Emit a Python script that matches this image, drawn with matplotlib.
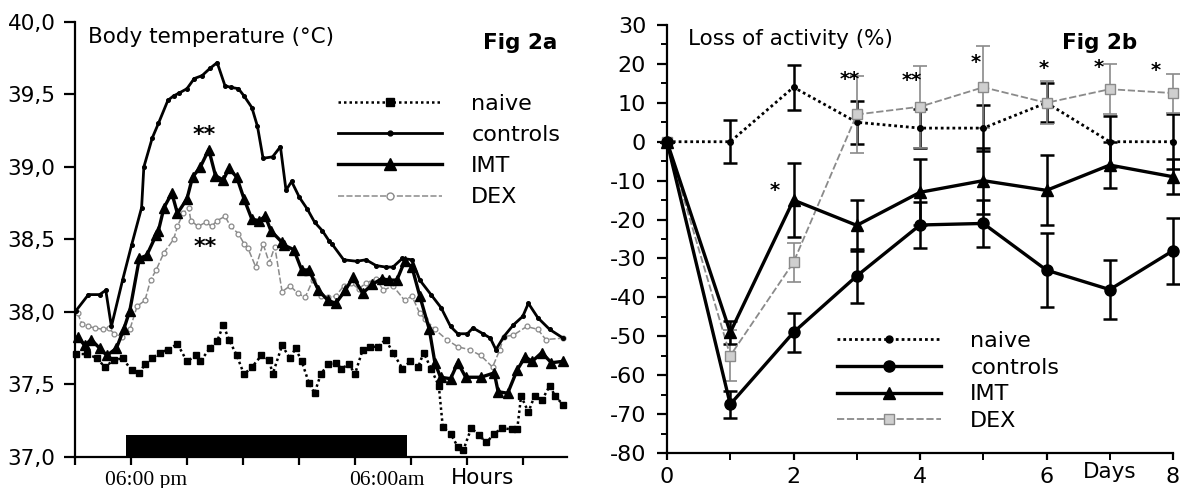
import matplotlib
matplotlib.use("Agg")
import matplotlib.pyplot as plt
from matplotlib.lines import Line2D
from matplotlib.ticker import MultipleLocator, FixedLocator, FixedFormatter
import matplotlib.transforms as mtransforms

plt.rcParams['axes.unicode_minus'] = False
plt.rcParams['font.family'] = ['DejaVu Sans']

# ---------------- Fig 2a data (x in tick intervals, y in °C) ----------------
ctrl_t = [0.02, 0.24, 0.44, 0.55, 0.65, 0.85, 1.01, 1.19, 1.23, 1.38, 1.49, 1.66, 1.76, 1.86, 2.0,
          2.13, 2.27, 2.41, 2.54, 2.68, 2.78, 2.92, 3.02, 3.16, 3.26, 3.36, 3.53, 3.67, 3.77, 3.87,
          4.01, 4.15, 4.28, 4.42, 4.54, 4.59, 4.80, 5.03, 5.20, 5.38, 5.55, 5.68, 5.85, 6.02, 6.16,
          6.36, 6.54, 6.71, 6.84, 7.01, 7.11, 7.29, 7.42, 7.52, 7.66, 7.83, 8.0, 8.10, 8.27, 8.48, 8.72]
ctrl_v = [38.01, 38.12, 38.12, 38.15, 37.90, 38.22, 38.46, 38.72, 39.0, 39.2, 39.30, 39.46, 39.49, 39.51, 39.54,
          39.61, 39.63, 39.68, 39.72, 39.56, 39.55, 39.54, 39.49, 39.41, 39.28, 39.06, 39.07, 39.14, 38.84, 38.90,
          38.79, 38.71, 38.62, 38.56, 38.49, 38.47, 38.36, 38.35, 38.36, 38.32, 38.31, 38.31, 38.37, 38.36, 38.22,
          38.12, 38.03, 37.90, 37.85, 37.85, 37.89, 37.85, 37.82, 37.74, 37.83, 37.91, 37.97, 38.06, 37.96, 37.88, 37.82]

imt_t = [0.05, 0.17, 0.29, 0.44, 0.57, 0.74, 0.87, 0.98, 1.15, 1.28, 1.45, 1.49, 1.59, 1.73, 1.83, 2.0,
         2.10, 2.24, 2.39, 2.51, 2.65, 2.75, 2.89, 3.02, 3.16, 3.29, 3.40, 3.50, 3.70, 3.74, 3.91, 4.05,
         4.18, 4.35, 4.52, 4.66, 4.83, 4.97, 5.14, 5.31, 5.48, 5.61, 5.75, 5.89, 6.02, 6.16, 6.33, 6.43,
         6.53, 6.71, 6.84, 6.98, 7.25, 7.49, 7.56, 7.73, 7.90, 8.04, 8.17, 8.34, 8.51, 8.72]
imt_v = [37.83, 37.77, 37.81, 37.75, 37.70, 37.75, 37.88, 38.01, 38.37, 38.39, 38.53, 38.56, 38.72, 38.82, 38.68, 38.78,
         38.93, 39.0, 39.12, 38.94, 38.91, 38.99, 38.93, 38.78, 38.64, 38.63, 38.66, 38.56, 38.48, 38.46, 38.43, 38.29,
         38.29, 38.15, 38.08, 38.06, 38.15, 38.24, 38.13, 38.19, 38.23, 38.22, 38.22, 38.35, 38.31, 38.11, 37.88, 37.65,
         37.55, 37.54, 37.65, 37.55, 37.55, 37.58, 37.45, 37.44, 37.60, 37.69, 37.66, 37.72, 37.65, 37.66]

dex_t = [0.05, 0.12, 0.23, 0.36, 0.50, 0.60, 0.70, 0.84, 0.98, 1.11, 1.25, 1.35, 1.45, 1.59, 1.76, 1.83,
         1.93, 2.03, 2.07, 2.20, 2.34, 2.44, 2.54, 2.68, 2.78, 2.92, 3.02, 3.09, 3.23, 3.36, 3.47, 3.57,
         3.70, 3.84, 3.98, 4.11, 4.25, 4.39, 4.52, 4.66, 4.80, 4.93, 5.07, 5.20, 5.38, 5.51, 5.68, 5.89,
         6.02, 6.16, 6.26, 6.43, 6.64, 6.84, 7.05, 7.25, 7.46, 7.59, 7.66, 7.83, 8.07, 8.27, 8.41, 8.72]
dex_v = [37.99, 37.92, 37.90, 37.89, 37.88, 37.89, 37.85, 37.83, 37.88, 38.04, 38.08, 38.22, 38.29, 38.41, 38.50, 38.59,
         38.68, 38.72, 38.63, 38.59, 38.62, 38.59, 38.63, 38.66, 38.59, 38.54, 38.47, 38.44, 38.31, 38.47, 38.34, 38.45,
         38.14, 38.18, 38.13, 38.10, 38.22, 38.11, 38.10, 38.11, 38.18, 38.20, 38.16, 38.20, 38.23, 38.15, 38.18, 38.08,
         38.11, 37.99, 37.95, 37.88, 37.81, 37.76, 37.74, 37.70, 37.62, 37.74, 37.83, 37.84, 37.90, 37.88, 37.81, 37.82]

naive_t = [0.02, 0.22, 0.40, 0.53, 0.70, 0.85, 1.01, 1.15, 1.25, 1.38, 1.52, 1.66, 1.83, 2.0, 2.17, 2.24,
           2.41, 2.54, 2.65, 2.75, 2.89, 3.02, 3.16, 3.33, 3.47, 3.53, 3.70, 3.84, 3.94, 4.05, 4.18, 4.28,
           4.39, 4.52, 4.66, 4.76, 4.90, 5.00, 5.14, 5.27, 5.41, 5.55, 5.68, 5.85, 5.99, 6.13, 6.23, 6.36,
           6.50, 6.57, 6.71, 6.84, 6.94, 7.08, 7.22, 7.35, 7.49, 7.63, 7.80, 7.90, 7.97, 8.10, 8.21, 8.34,
           8.48, 8.58, 8.72]
naive_v = [37.71, 37.71, 37.68, 37.62, 37.67, 37.68, 37.60, 37.58, 37.64, 37.68, 37.72, 37.74, 37.78, 37.66, 37.70, 37.66,
           37.75, 37.80, 37.91, 37.81, 37.70, 37.57, 37.62, 37.70, 37.67, 37.57, 37.77, 37.68, 37.75, 37.66, 37.51, 37.44,
           37.57, 37.64, 37.65, 37.61, 37.64, 37.57, 37.74, 37.76, 37.76, 37.81, 37.72, 37.61, 37.66, 37.62, 37.72, 37.61,
           37.49, 37.21, 37.16, 37.07, 37.05, 37.20, 37.15, 37.10, 37.16, 37.20, 37.19, 37.19, 37.42, 37.31, 37.42, 37.39,
           37.49, 37.42, 37.36]

temp_ticks = [37.0, 37.5, 38.0, 38.5, 39.0, 39.5, 40.0]
temp_ticklabels = ['37,0', '37,5', '38,0', '38,5', '39,0', '39,5', '40,0']
dark_start, dark_end, dark_top = 0.91, 5.93, 37.15

# ---------------- Fig 2b data (days, % loss of activity) ----------------
days = [0, 1, 2, 3, 4, 5, 6, 7, 8]
naive_act = [0, 0, 14, 5, 3.5, 3.5, 10, 0, 0]
naive_err = [0, 5.5, 5.75, 5.5, 5, 6, 5, 6.5, 7]
ctrl_act = [0, -67.5, -49, -34.5, -21.4, -21, -33, -38, -28]
ctrl_err = [0, 3.5, 5, 7, 6, 6, 9.5, 7.5, 8.5]
imt_act = [0, -49, -15, -21.5, -13, -10, -12.5, -6, -9]
imt_err = [0, 3, 9.5, 6.5, 8.5, 8.5, 9, 6, 4.5]
dex_act = [0, -55, -31, 7, 9, 14, 10, 13.5, 12.5]
dex_err = [0, 6.5, 5, 10, 10.5, 10.5, 5.5, 6.5, 5]

# significance marks (x, y, text)
stars_a = [(2.3, 39.22, '**'), (2.33, 38.45, '**')]
stars_b = [(1.71, -12.6, '*'), (2.89, 16, '**'), (3.87, 15.7, '**'), (4.88, 20.4, '*'),
           (5.96, 18.8, '*'), (6.82, 19, '*'), (7.73, 18.3, '*')]

labels = ['naive', 'controls', 'IMT', 'DEX']
GREY = '#8a8a8a'

fig = plt.figure(figsize=(11.8, 4.88), dpi=100)

# ============ Left panel ============
ax1 = fig.add_axes([75/1180, 31/488, 492/1180, 435/488])
ax1.set_xlim(0, 8.79)
ax1.set_ylim(37.0, 40.0)

ax1.plot(naive_t, naive_v, color='black', lw=1.8, ls=(0, (1, 1.2)), marker='s', ms=4.5, clip_on=False)
ax1.plot(dex_t, dex_v, color=GREY, lw=1.1, ls=(0, (4, 1.5)), marker='o', ms=3.5, mfc='white', mec=GREY, mew=0.9, clip_on=False)
ax1.plot(ctrl_t, ctrl_v, color='black', lw=2.0, marker='o', ms=2.6, clip_on=False)
ax1.plot(imt_t, imt_v, color='black', lw=2.4, marker='^', ms=6.5, clip_on=False)

ax1.fill_between([dark_start, dark_end], dark_top, 37.0, color='black', lw=0)

for x, y, s in stars_a:
    ax1.text(x, y, s, ha='center', va='center', fontsize=16, fontweight='bold')

for side in ['top', 'right']:
    ax1.spines[side].set_visible(False)
for side in ['left', 'bottom']:
    ax1.spines[side].set_linewidth(1.6)
ax1.yaxis.set_major_locator(FixedLocator(temp_ticks))
ax1.yaxis.set_major_formatter(FixedFormatter(temp_ticklabels))
ax1.xaxis.set_major_locator(FixedLocator(list(range(9))))
ax1.set_xticklabels([])
ax1.tick_params(axis='y', direction='out', length=8, width=1.6, labelsize=15.5, pad=6)
ax1.tick_params(axis='x', direction='out', length=6, width=1.6)

tr1 = mtransforms.blended_transform_factory(ax1.transData, ax1.transAxes)
ax1.text(1.27, -0.053, '06:00 pm', transform=tr1, ha='center', va='center',
         fontsize=15.5, family='Liberation Serif')
ax1.text(5.57, -0.053, '06:00am', transform=tr1, ha='center', va='center',
         fontsize=15.5, family='Liberation Serif')
ax1.text(7.29, -0.048, 'Hours', transform=tr1, ha='center', va='center', fontsize=15.5)

fig.text(88/1180, (488-37)/488, 'Body temperature (°C)', ha='left', va='center', fontsize=15.5)
fig.text(520/1180, (488-43)/488, 'Fig 2a', ha='center', va='center', fontsize=15.5, fontweight='bold')

h_a = [Line2D([], [], color='black', lw=1.8, ls=(0, (1, 1.2)), marker='s', ms=6),
       Line2D([], [], color='black', lw=2.0, marker='o', ms=3.5),
       Line2D([], [], color='black', lw=2.4, marker='^', ms=8),
       Line2D([], [], color=GREY, lw=1.1, ls=(0, (4, 1.5)), marker='o', ms=5, mfc='white', mec=GREY)]
fig.legend(h_a, labels, loc='upper left', bbox_to_anchor=(338/1180, (488-94)/488),
           bbox_transform=fig.transFigure, frameon=False, fontsize=16, numpoints=1,
           handlelength=4.7, handletextpad=1.3, labelspacing=0.5, borderpad=0, borderaxespad=0)

# ============ Right panel ============
ax2 = fig.add_axes([667/1180, 35/488, 506/1180, 428/488])
ax2.set_xlim(0, 8)
ax2.set_ylim(-80, 30)

ekw = dict(capsize=5, capthick=1.8, elinewidth=1.8, clip_on=False)
ax2.errorbar(days, naive_act, yerr=naive_err, color='black', lw=2.0, ls=(0, (1, 1.1)),
             marker='o', ms=4, **ekw)
ax2.errorbar(days, dex_act, yerr=dex_err, color=GREY, lw=1.3, ls=(0, (4, 1.5)),
             marker='s', ms=6.5, mfc='#cfcfcf', mec=GREY, capsize=5, capthick=1.2, elinewidth=1.2, clip_on=False)
ax2.errorbar(days, ctrl_act, yerr=ctrl_err, color='black', lw=2.4, marker='o', ms=8, **ekw)
ax2.errorbar(days, imt_act, yerr=imt_err, color='black', lw=2.4, marker='^', ms=8, **ekw)

for x, y, s in stars_b:
    ax2.text(x, y, s, ha='center', va='center', fontsize=14, fontweight='bold')

for side in ['top', 'right']:
    ax2.spines[side].set_visible(False)
for side in ['left', 'bottom']:
    ax2.spines[side].set_linewidth(1.6)
ax2.yaxis.set_major_locator(MultipleLocator(10))
ax2.yaxis.set_minor_locator(MultipleLocator(5))
ax2.xaxis.set_major_locator(FixedLocator([0, 2, 4, 6, 8]))
ax2.xaxis.set_minor_locator(FixedLocator([1, 3, 5, 7]))
ax2.tick_params(axis='y', which='major', direction='out', length=7, width=1.6, labelsize=16, pad=8)
ax2.tick_params(axis='y', which='minor', direction='out', length=4, width=1.4)
ax2.tick_params(axis='x', which='major', direction='out', length=5, width=1.6, labelsize=16, pad=5)
ax2.tick_params(axis='x', which='minor', direction='out', length=5, width=1.4)

tr2 = mtransforms.blended_transform_factory(ax2.transData, ax2.transAxes)
ax2.text(7.0, -0.045, 'Days', transform=tr2, ha='center', va='center', fontsize=15.5)

fig.text(688/1180, (488-39)/488, 'Loss of activity (%)', ha='left', va='center', fontsize=15.5)
fig.text(1100/1180, (488-43)/488, 'Fig 2b', ha='center', va='center', fontsize=15.5, fontweight='bold')

h_b = [Line2D([], [], color='black', lw=2.0, ls=(0, (1, 1.1)), marker='o', ms=5),
       Line2D([], [], color='black', lw=2.4, marker='o', ms=8),
       Line2D([], [], color='black', lw=2.4, marker='^', ms=8),
       Line2D([], [], color=GREY, lw=1.3, ls=(0, (4, 1.5)), marker='s', ms=6.5, mfc='#cfcfcf', mec=GREY)]
fig.legend(h_b, labels, loc='upper left', bbox_to_anchor=(837/1180, (488-331)/488),
           bbox_transform=fig.transFigure, frameon=False, fontsize=16, numpoints=1,
           handlelength=4.7, handletextpad=1.3, labelspacing=0.3, borderpad=0, borderaxespad=0)

fig.savefig('out.png', dpi=100)
